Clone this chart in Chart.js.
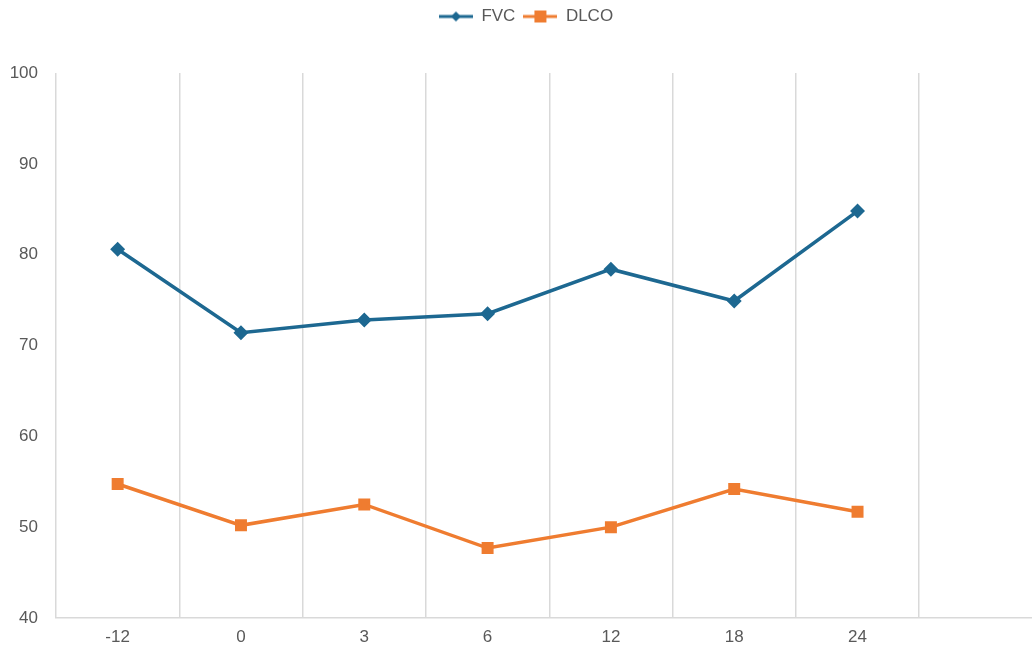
<!DOCTYPE html>
<html>
<head>
<meta charset="utf-8">
<script src="https://cdn.jsdelivr.net/npm/chart.js@4/dist/chart.umd.min.js"></script>
<style>
  html, body { margin: 0; padding: 0; background: #fff; overflow: hidden; }
  #wrap { width: 1052px; height: 651px; position: relative; }
</style>
</head>
<body>
<div id="wrap"><canvas id="stage"></canvas></div>
<script>
// months, last slot left empty
var months = ['-12', '0', '3', '6', '12', '18', '24', ''];
var fvc = [80.6, 71.4, 72.8, 73.5, 78.4, 74.9, 84.8, null];
var dlco = [54.75, 50.2, 52.5, 47.7, 50.0, 54.2, 51.7, null];

var BLUE = '#1d6891';
var ORANGE = '#ef7c30';
var FONT = 'Liberation Sans, Arial, sans-serif';

// legend swatch: short line with the marker in the middle
function swatch(color, shape) {
  var c = document.createElement('canvas');
  c.width = 34; c.height = 14;
  var g = c.getContext('2d');
  g.strokeStyle = color;
  g.lineWidth = 3;
  g.beginPath(); g.moveTo(0, 7); g.lineTo(34, 7); g.stroke();
  g.fillStyle = color;
  if (shape === 'diamond') {
    g.beginPath(); g.moveTo(17, 2); g.lineTo(22, 7); g.lineTo(17, 12); g.lineTo(12, 7); g.closePath(); g.fill();
  } else {
    g.fillRect(11, 1, 12, 12);
  }
  return c;
}

// keep a fixed band above the plot for the legend
var legendBand = {
  id: 'legendBand',
  beforeLayout: function(ch) {
    var lg = ch.legend;
    if (lg && !lg._banded) {
      var fit = lg.fit;
      lg.fit = function() { fit.call(this); this.height = 73; };
      lg._banded = true;
    }
  }
};

var canvas = document.getElementById('stage');
var chart = new Chart(canvas, {
  type: 'line',
  data: {
    labels: months,
    datasets: [
      {
        label: 'FVC',
        data: fvc,
        borderColor: BLUE,
        backgroundColor: BLUE,
        borderWidth: 3.5,
        pointStyle: 'rectRot',
        pointRadius: 5,
        pointHoverRadius: 5,
        legendSwatch: swatch(BLUE, 'diamond')
      },
      {
        label: 'DLCO',
        data: dlco,
        borderColor: ORANGE,
        backgroundColor: ORANGE,
        borderWidth: 3.5,
        pointStyle: 'rect',
        pointRadius: 6,
        pointHoverRadius: 6,
        legendSwatch: swatch(ORANGE, 'square')
      }
    ]
  },
  options: {
    responsive: true,
    maintainAspectRatio: false,
    animation: false,
    plugins: {
      tooltip: { enabled: false },
      legend: {
        position: 'top',
        labels: {
          usePointStyle: true,
          pointStyleWidth: 34,
          boxHeight: 14,
          color: '#595959',
          font: { family: FONT, size: 17 },
          padding: 8,
          generateLabels: function(ch) {
            return ch.data.datasets.map(function(ds, i) {
              return {
                text: ds.label,
                pointStyle: ds.legendSwatch,
                fillStyle: ds.borderColor,
                strokeStyle: ds.borderColor,
                fontColor: '#595959',
                lineWidth: 0,
                datasetIndex: i
              };
            });
          }
        }
      }
    },
    scales: {
      x: {
        offset: true,
        grid: {
          offset: true,
          color: '#d9d9d9',
          lineWidth: 1.5,
          drawTicks: false
        },
        border: { color: '#d9d9d9', width: 1.5 },
        ticks: {
          color: '#595959',
          font: { family: FONT, size: 17 },
          padding: 9,
          maxRotation: 0
        },
        afterFit: function(s) { s.height = 33; }
      },
      y: {
        min: 40,
        max: 100,
        grid: { display: false, drawTicks: false },
        border: { display: false },
        ticks: {
          stepSize: 10,
          color: '#595959',
          font: { family: FONT, size: 17 },
          padding: 18
        },
        afterFit: function(s) { s.width = 56; }
      }
    }
  },
  plugins: [legendBand]
});
</script>
</body>
</html>
